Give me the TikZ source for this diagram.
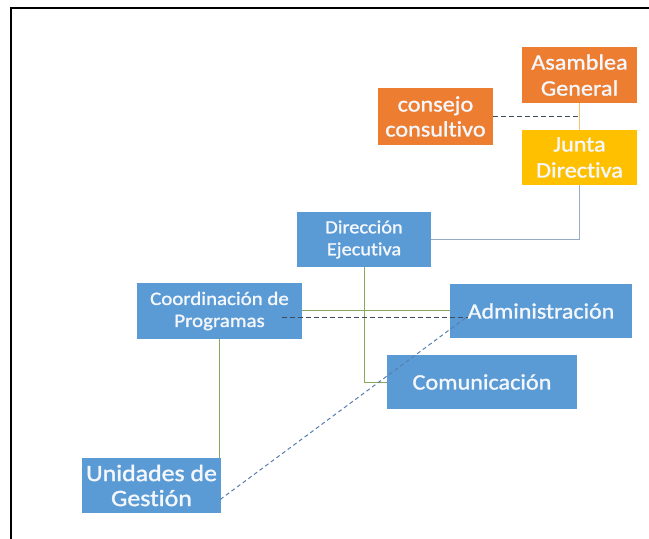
\documentclass[tikz,border=0pt]{standalone}
\usepackage{fontspec}
\setmainfont[FakeStretch=1.1, FakeBold=1.3, Ligatures=NoCommon]{Carlito}
\usetikzlibrary{calc}
\definecolor{boxblue}{HTML}{5B9BD5}
\definecolor{boxorange}{HTML}{ED7D31}
\definecolor{boxyellow}{HTML}{FFC000}
\definecolor{linegreen}{HTML}{86A95C}
\definecolor{linegrayblue}{HTML}{97ABC6}
\definecolor{lineorange}{HTML}{F2C470}
\definecolor{dashdark}{HTML}{3E4A5C}
\definecolor{dashblue}{HTML}{5A7DB0}
\definecolor{textlight}{HTML}{F4F7FB}
\tikzset{
  orgbox/.style={draw=none, text=textlight, align=center, inner sep=0pt},
  bluebox/.style={orgbox, fill=boxblue},
  orangebox/.style={orgbox, fill=boxorange},
  yellowbox/.style={orgbox, fill=boxyellow},
  solidgreen/.style={draw=linegreen, line width=1pt},
  solidgray/.style={draw=linegrayblue, line width=1.3pt},
  solidorange/.style={draw=lineorange, line width=1pt},
  darkdash/.style={draw=dashdark, line width=1pt, dash pattern=on 5pt off 3pt},
  bluedash/.style={draw=dashblue, line width=1pt, dash pattern=on 4pt off 3pt}
}
\begin{document}
\begin{tikzpicture}[x=1pt,y=-1pt]
\useasboundingbox (0,0) rectangle (649,539);
\fill[white] (0,0) rectangle (649,539);
\draw[line width=2.5pt, black] (11,539) -- (11,8) -- (649,8);

\node[orangebox, minimum width=115pt, minimum height=56pt, font=\fontsize{22}{26}\selectfont] (ag) at (579.5,75) {Asamblea\\General};
\node[orangebox, minimum width=115pt, minimum height=57pt, font=\fontsize{22}{25}\selectfont] (cc) at (435.5,116.5) {consejo\\consultivo};
\node[yellowbox, minimum width=115pt, minimum height=55pt, font=\fontsize{22}{26}\selectfont] (jd) at (579.5,157.5) {Junta\\Directiva};
\node[bluebox, minimum width=134pt, minimum height=55pt, font=\fontsize{18.5}{22}\selectfont] (de) at (364,239.5) {Dirección\\Ejecutiva};
\node[bluebox, minimum width=165pt, minimum height=56pt, font=\fontsize{19}{22}\selectfont] (cp) at (219.5,311) {Coordinación de\\Programas};
\node[bluebox, minimum width=182pt, minimum height=54pt, font=\fontsize{21.8}{25}\selectfont] (ad) at (541,311) {Administración};
\node[bluebox, minimum width=190pt, minimum height=54pt, font=\fontsize{22}{25}\selectfont] (co) at (482,382) {Comunicación};
\node[bluebox, minimum width=139pt, minimum height=55pt, font=\fontsize{23.5}{25}\selectfont] (ug) at (151.5,485.5) {Unidades de\\Gestión};

\draw[solidorange] (ag.south) -- (jd.north);
\draw[darkdash] (cc.east) -- (cc.east -| ag.south);
\draw[solidgray] (jd.south) |- (de.east);
\draw[solidgreen] (de.south) |- (co.west);
\draw[solidgreen] (cp.south) -- (cp.south |- ug.north);
\draw[solidgreen] ($(cp.east)+(0,-1)$) -- ($(ad.west)+(0,-1)$);
\draw[darkdash] ($(cp.east)+(-20,6)$) -- ($(ad.west)+(18,6)$);
\draw[bluedash] ($(ug.east)+(-1,14)$) -- ($(ad.west)+(17,6)$);
\end{tikzpicture}
\end{document}
